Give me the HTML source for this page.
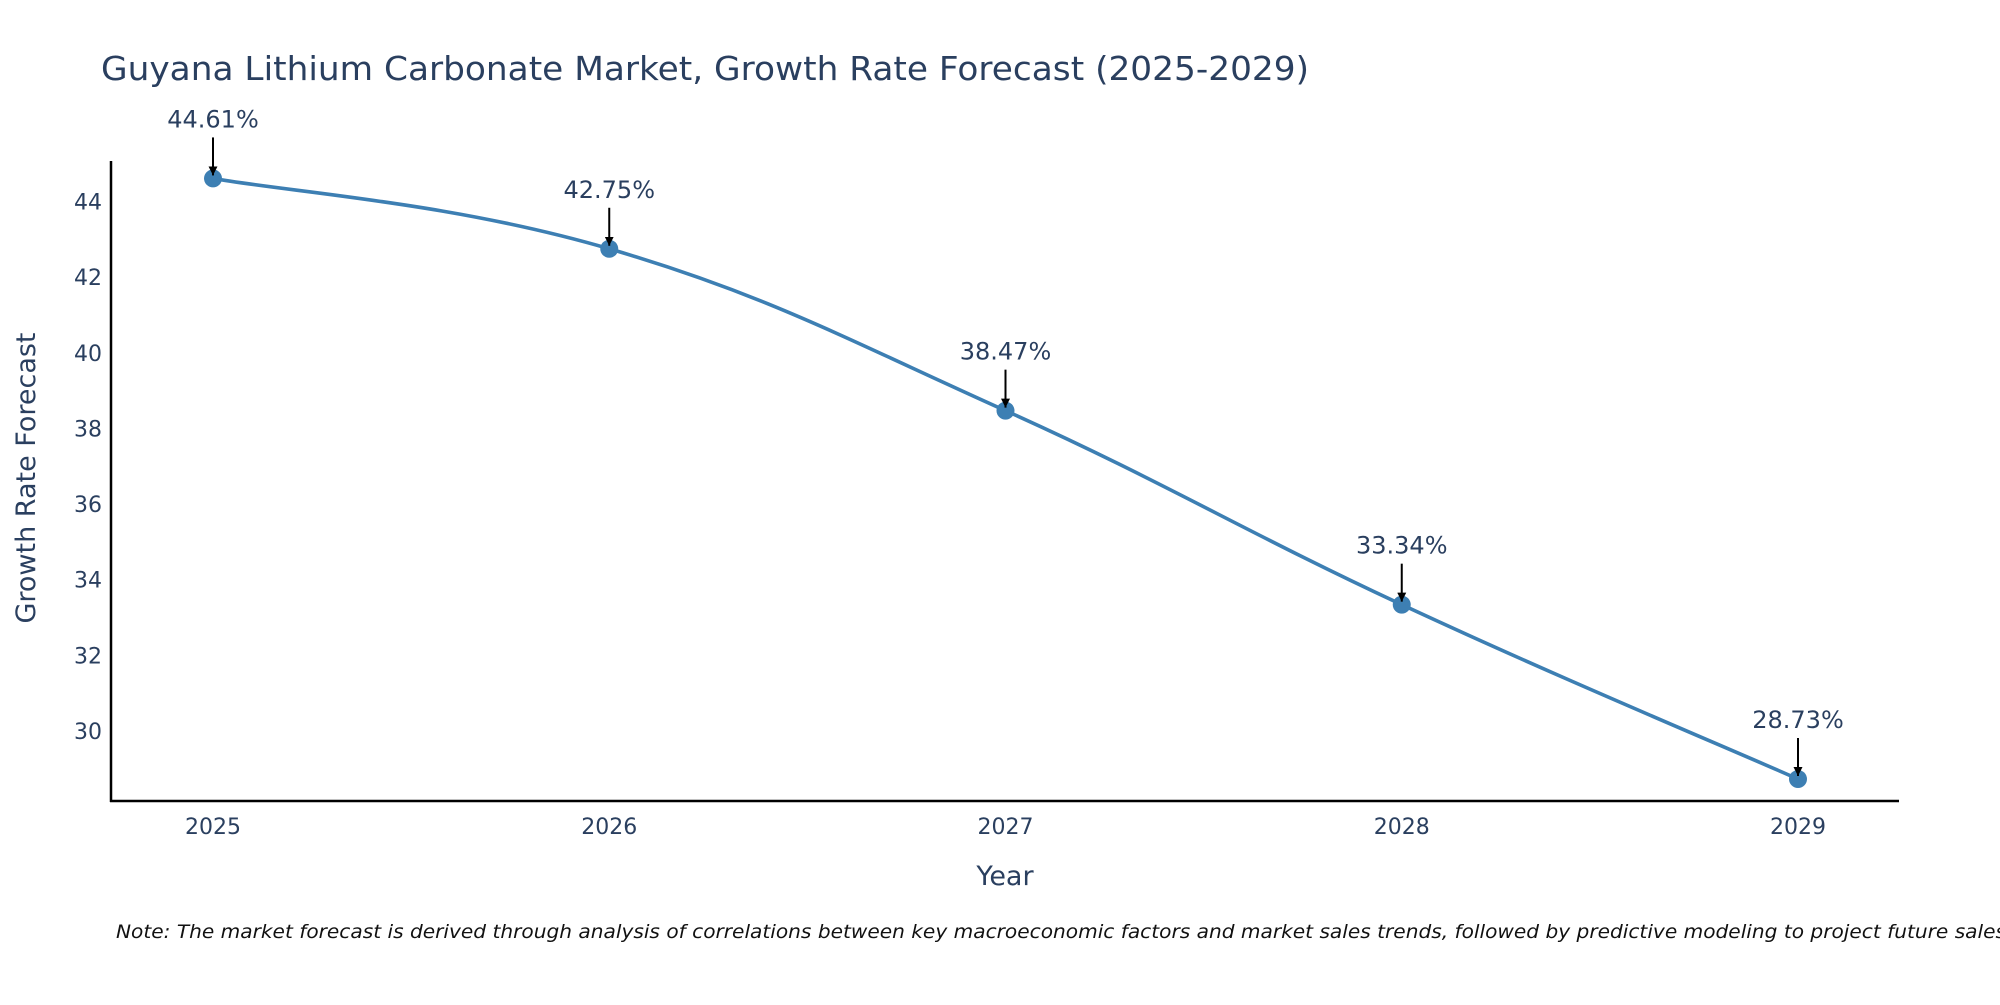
<!DOCTYPE html>
<html><head><meta charset="utf-8"><style>
body{margin:0;background:#fff;width:2000px;height:1000px;overflow:hidden}
text{font-family:"DejaVu Sans","Liberation Sans",sans-serif;fill:#2a3f5f}
</style></head><body>
<svg id="chart" width="2000" height="1000" viewBox="0 0 2000 1000" xmlns="http://www.w3.org/2000/svg">
<defs><marker id="ah" viewBox="0 0 10 10" refX="10" refY="5" markerWidth="4.5" markerHeight="4.5" orient="auto"><path d="M0,0 L10,5 L0,10 z" fill="#000"/></marker></defs>
<text x="101" y="80" font-size="33" textLength="1208" lengthAdjust="spacingAndGlyphs">Guyana Lithium Carbonate Market, Growth Rate Forecast (2025-2029)</text>
<g id="yticks"></g><g id="xticks"></g>
<line x1="111" y1="161" x2="111" y2="802" stroke="#000" stroke-width="2.5"/>
<line x1="110" y1="801" x2="1899" y2="801" stroke="#000" stroke-width="2.5"/>
<path id="line" fill="none" stroke="#3d7fb3" stroke-width="3.6"/>
<g id="marks"></g>
<text x="1005" y="885" font-size="27" text-anchor="middle">Year</text>
<text transform="translate(35,478) rotate(-90)" font-size="27" text-anchor="middle">Growth Rate Forecast</text>
<text x="116" y="938" font-size="19" font-style="italic" style="fill:#111" textLength="1890" lengthAdjust="spacingAndGlyphs">Note: The market forecast is derived through analysis of correlations between key macroeconomic factors and market sales trends, followed by predictive modeling to project future sales</text>
</svg>
<script>
const years=[2025,2026,2027,2028,2029];
const values=[44.61,42.75,38.47,33.34,28.73];
const yTicks=[30,32,34,36,38,40,42,44];
const ns="http://www.w3.org/2000/svg";
function xs(i){return 213+(1798-213)*(i-2025)/4;}
function ys(v){return 201.5+(44-v)*37.82;}
const yt=document.getElementById('yticks'),xt=document.getElementById('xticks'),mk=document.getElementById('marks');
yTicks.forEach(t=>{const e=document.createElementNS(ns,'text');


e.setAttribute('x',102);e.setAttribute('y',ys(t)+8);e.setAttribute('font-size','22');e.setAttribute('text-anchor','end');e.textContent=t;yt.appendChild(e);});
years.forEach(y=>{const e=document.createElementNS(ns,'text');


e.setAttribute('x',xs(y));e.setAttribute('y',834);e.setAttribute('font-size','22');e.setAttribute('text-anchor','middle');e.textContent=y;xt.appendChild(e);});
const pts=years.map((y,i)=>[xs(y),ys(values[i])]);
let d='M'+pts[0][0]+','+pts[0][1];const k=0.2;
for(let i=0;i<pts.length-1;i++){const p0=pts[i-1]||pts[i],p1=pts[i],p2=pts[i+1],p3=pts[i+2]||p2;
const c1=[p1[0]+(p2[0]-p0[0])*k,p1[1]+(p2[1]-p0[1])*k],c2=[p2[0]-(p3[0]-p1[0])*k,p2[1]-(p3[1]-p1[1])*k];
d+=' C'+c1+' '+c2+' '+p2;}
document.getElementById('line').setAttribute('d',d);
pts.forEach((p,i)=>{const c=document.createElementNS(ns,'circle');


c.setAttribute('cx',p[0]);c.setAttribute('cy',p[1]);c.setAttribute('r',9);c.setAttribute('fill','#3d7fb3');mk.appendChild(c);
const a=document.createElementNS(ns,'line');


a.setAttribute('x1',p[0]);a.setAttribute('y1',p[1]-41);a.setAttribute('x2',p[0]);a.setAttribute('y2',p[1]-3);a.setAttribute('stroke','#000');a.setAttribute('stroke-width','2');a.setAttribute('marker-end','url(#ah)');mk.appendChild(a);
const t=document.createElementNS(ns,'text');


t.setAttribute('x',p[0]);t.setAttribute('y',p[1]-51);t.setAttribute('font-size','24');t.setAttribute('text-anchor','middle');t.textContent=values[i].toFixed(2)+'%';mk.appendChild(t);});
</script>
</body></html>
